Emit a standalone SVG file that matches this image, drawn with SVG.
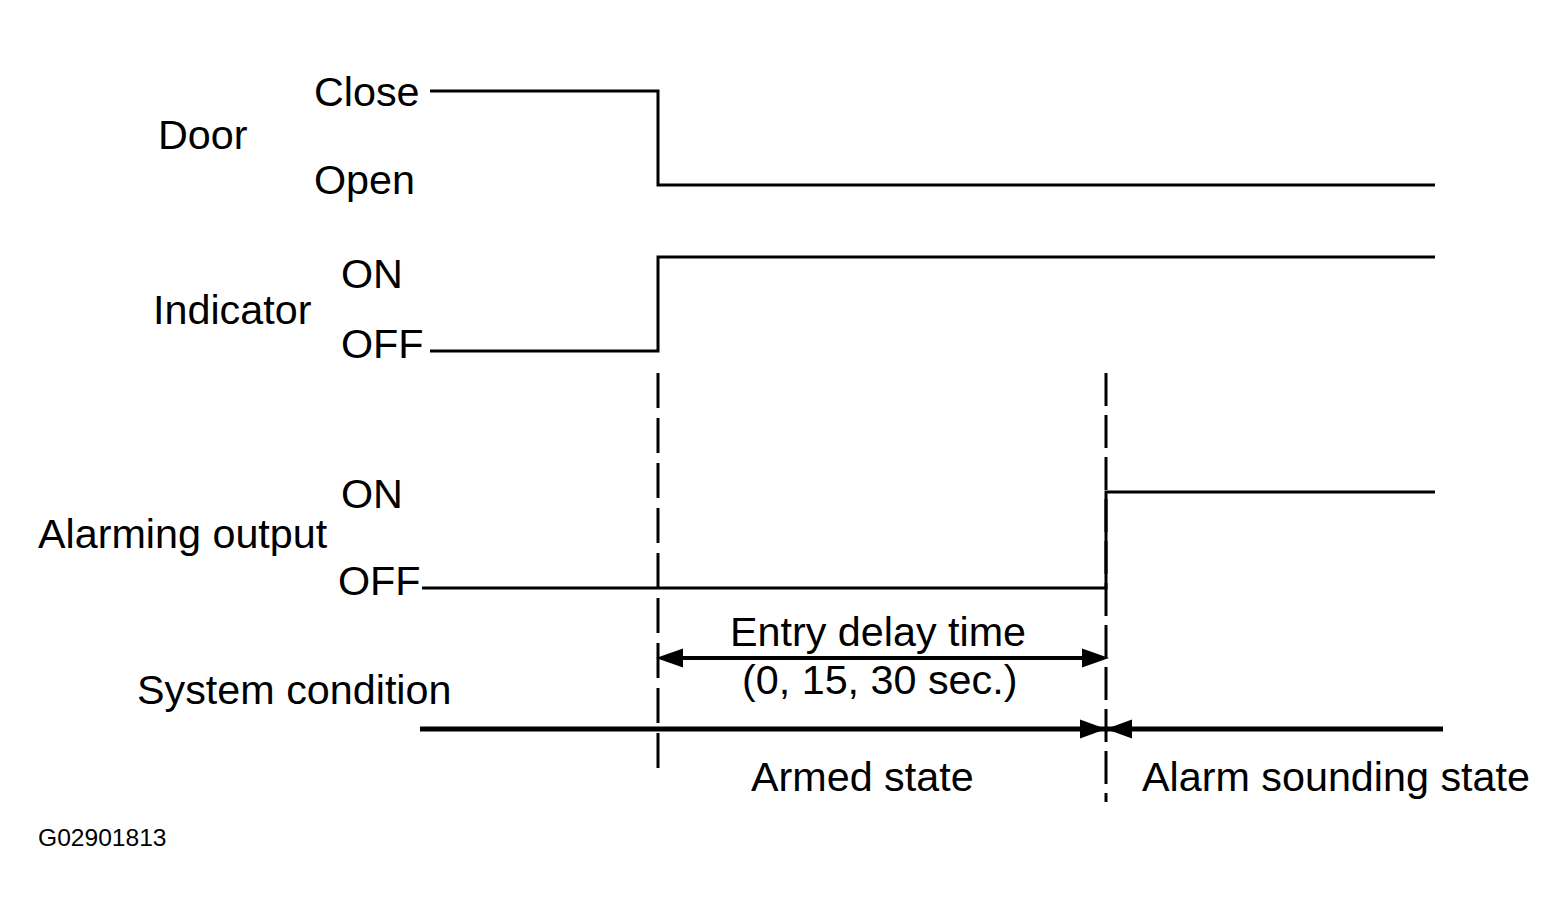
<svg xmlns="http://www.w3.org/2000/svg" width="1565" height="920" viewBox="0 0 1565 920">
<defs>
<style>
text { font-family: "Liberation Sans", Arial, sans-serif; font-size: 41.3px; fill: #000; }
.small { font-size: 24.6px; }
.sig { fill: none; stroke: #000; stroke-width: 3; }
.dash1 { fill: none; stroke: #000; stroke-width: 3; stroke-dasharray: 35 10; }
.dash2 { fill: none; stroke: #000; stroke-width: 3; stroke-dasharray: 33 9; }
.thick { fill: none; stroke: #000; stroke-width: 4; }
.thicker { fill: none; stroke: #000; stroke-width: 5; }
.head { fill: #000; stroke: none; }
</style>
</defs>
<rect width="1565" height="920" fill="#fff"/>

<g id="door">
<text x="158" y="149">Door</text>
<text x="314" y="106">Close</text>
<text x="314" y="194">Open</text>
<polyline class="sig" points="430,91 658,91 658,185 1435,185"/>
</g>

<g id="indicator">
<text x="153" y="324">Indicator</text>
<text x="341" y="288">ON</text>
<text x="341" y="358">OFF</text>
<polyline class="sig" points="430,351 658,351 658,257 1435,257"/>
</g>

<g id="alarming-output">
<text x="38" y="548">Alarming output</text>
<text x="341" y="508">ON</text>
<text x="338" y="595">OFF</text>
<polyline class="sig" points="422,588 1106,588 1106,492 1435,492"/>
</g>

<g id="system-condition">
<text x="137" y="704">System condition</text>
<text x="751" y="791">Armed state</text>
<text x="1142" y="791">Alarm sounding state</text>
</g>

<g id="entry-delay">
<text x="730" y="646">Entry delay time</text>
<text x="742" y="694">(0, 15, 30 sec.)</text>
</g>

<g id="connectors">
<line class="dash1" x1="658" y1="373" x2="658" y2="768"/>
<line class="dash2" x1="1106" y1="373" x2="1106" y2="802"/>
<line class="thick" x1="675" y1="658" x2="1090" y2="658"/>
<polygon class="head" points="656,658 683,648.5 683,667.5"/>
<polygon class="head" points="1109,658 1082,648.5 1082,667.5"/>
<line class="thicker" x1="420" y1="729" x2="1443" y2="729"/>
<polygon class="head" points="1106,729 1080,719.5 1080,738.5"/>
<polygon class="head" points="1106,729 1132,719.5 1132,738.5"/>
</g>

<text class="small" x="38" y="846">G02901813</text>
</svg>
